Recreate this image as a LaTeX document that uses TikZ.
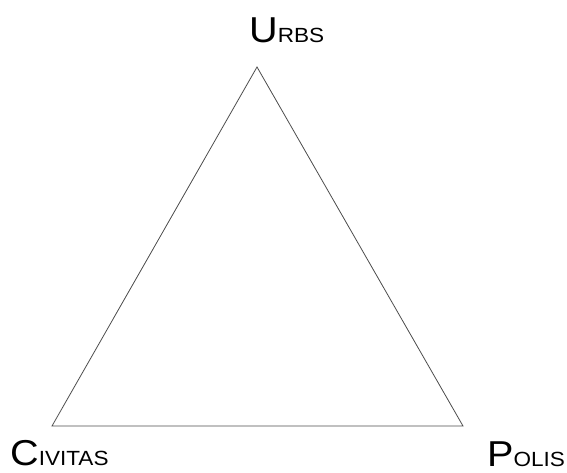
\documentclass[tikz,border=0pt]{standalone}
\usepackage{fontspec}
\setmainfont{Liberation Sans}
\newcommand{\bigletter}[1]{{\fontsize{36}{40}\selectfont #1}}
\newcommand{\smallletters}[1]{{\fontsize{20.5}{24}\selectfont #1}}
\newcommand{\widen}[1]{\scalebox{1.1}[1]{#1}}
\begin{document}
\begin{tikzpicture}[x=1pt,y=1pt,
  lbl/.style={inner sep=0pt, anchor=base west, text=black},
  edge/.style={draw=black!70, line width=0.8pt, line join=miter}]
\useasboundingbox (0,0) rectangle (567,472);
\coordinate (top) at (257,405);
\coordinate (left) at (52,46);
\coordinate (right) at (463,46);
\draw[edge] (top) -- (left) -- (right) -- cycle;
\node[lbl] (urbs) at (249,429) {\widen{\bigletter{U}\smallletters{RBS}}};
\node[lbl] (civitas) at (10,7) {\widen{\bigletter{C}\smallletters{IVITAS}}};
\node[lbl] (polis) at (487,6) {\widen{\bigletter{P}\smallletters{OLIS}}};
\end{tikzpicture}
\end{document}
